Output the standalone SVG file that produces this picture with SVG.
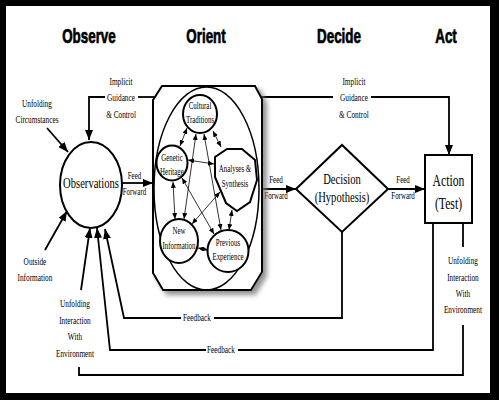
<svg xmlns="http://www.w3.org/2000/svg" width="499" height="400" viewBox="0 0 499 400">
<defs>
<style>
.t{font-family:"Liberation Serif","Times New Roman",serif;fill:#000;text-anchor:middle}
.s10{font-size:10px}
.s9{font-size:9.5px}
.h{font-family:"Liberation Sans",Arial,sans-serif;font-weight:bold;font-size:20px;text-anchor:middle;fill:#000;stroke:#000;stroke-width:0.7}
.ln{fill:none;stroke:#000;stroke-width:1.8}
.thin{fill:none;stroke:#000;stroke-width:0.8}
.shape{fill:#fff;stroke:#000;stroke-width:2}
</style>
<marker id="ah" markerUnits="userSpaceOnUse" markerWidth="10" markerHeight="8" refX="10" refY="4" orient="auto"><path d="M0,0 L10,4 L0,8 z" fill="#000"/></marker>
<marker id="sa" markerUnits="userSpaceOnUse" markerWidth="6" markerHeight="5" refX="6" refY="2.5" orient="auto-start-reverse"><path d="M0,0 L6,2.5 L0,5 z" fill="#000"/></marker>
<filter id="sh" x="-20%" y="-20%" width="140%" height="140%"><feDropShadow dx="4" dy="4" stdDeviation="2.5" flood-color="#777" flood-opacity="0.8"/></filter>
</defs>
<rect x="0" y="0" width="499" height="400" fill="#000"/>
<rect x="6" y="6" width="484" height="387" fill="#fff"/>

<g id="titles">
<text class="h" transform="scale(0.67,1)" x="132.8" y="43">Observe</text>
<text class="h" transform="scale(0.67,1)" x="307.5" y="43">Orient</text>
<text class="h" transform="scale(0.67,1)" x="506" y="43">Decide</text>
<text class="h" transform="scale(0.67,1)" x="665.7" y="43">Act</text>
</g>

<g id="connectors">
<path class="ln" d="M157,97 H138"/>
<path class="ln" d="M105,97 H89 V140" marker-end="url(#ah)"/>
<path class="ln" d="M259,97 H333"/>
<path class="ln" d="M371,97 H449 V155" marker-end="url(#ah)"/>
<path class="ln" d="M47,128 L68,152" marker-end="url(#ah)"/>
<path class="ln" d="M45,250 L67,211" marker-end="url(#ah)"/>
<path class="ln" d="M81,290 L90,228" marker-end="url(#ah)"/>
<path class="ln" d="M122,183 H153" marker-end="url(#ah)"/>
<path class="ln" d="M262,189 H296" marker-end="url(#ah)"/>
<path class="ln" d="M388,189 H425" marker-end="url(#ah)"/>
<path class="ln" d="M342,232 V318 H214"/>
<path class="ln" d="M181,318 H124 L105,229" marker-end="url(#ah)"/>
<path class="ln" d="M433,223 V350 H238"/>
<path class="ln" d="M206,350 H110 L97,228" marker-end="url(#ah)"/>
<path class="ln" d="M463,223 V247"/>
<path class="ln" d="M463,325 V375 H79 V367"/>
</g>

<g id="labels">
<text class="t s10" transform="scale(0.73,1)" x="165.8" y="85">Implicit</text>
<text class="t s10" transform="scale(0.73,1)" x="165.8" y="101">Guidance</text>
<text class="t s10" transform="scale(0.73,1)" x="165.8" y="118">&amp; Control</text>
<text class="t s10" transform="scale(0.73,1)" x="484.9" y="85">Implicit</text>
<text class="t s10" transform="scale(0.73,1)" x="484.9" y="101">Guidance</text>
<text class="t s10" transform="scale(0.73,1)" x="484.9" y="118">&amp; Control</text>
<text class="t s10" transform="scale(0.73,1)" x="50.7" y="107">Unfolding</text>
<text class="t s10" transform="scale(0.73,1)" x="50.7" y="123">Circumstances</text>
<text class="t s10" transform="scale(0.73,1)" x="47.9" y="265">Outside</text>
<text class="t s10" transform="scale(0.73,1)" x="47.9" y="281">Information</text>
<text class="t s10" transform="scale(0.73,1)" x="102.7" y="307">Unfolding</text>
<text class="t s10" transform="scale(0.73,1)" x="102.7" y="324">Interaction</text>
<text class="t s10" transform="scale(0.73,1)" x="102.7" y="340">With</text>
<text class="t s10" transform="scale(0.73,1)" x="102.7" y="357">Environment</text>
<text class="t s10" transform="scale(0.73,1)" x="634.2" y="264">Unfolding</text>
<text class="t s10" transform="scale(0.73,1)" x="634.2" y="281">Interaction</text>
<text class="t s10" transform="scale(0.73,1)" x="634.2" y="297">With</text>
<text class="t s10" transform="scale(0.73,1)" x="634.2" y="313">Environment</text>
<text class="t s10" transform="scale(0.73,1)" x="269.9" y="321">Feedback</text>
<text class="t s10" transform="scale(0.73,1)" x="302.7" y="353">Feedback</text>
<text class="t s9" transform="scale(0.73,1)" x="184.2" y="179">Feed</text>
<text class="t s9" transform="scale(0.73,1)" x="184.2" y="195">Forward</text>
<text class="t s9" transform="scale(0.73,1)" x="378.1" y="183">Feed</text>
<text class="t s9" transform="scale(0.73,1)" x="378.1" y="199">Forward</text>
<text class="t s9" transform="scale(0.73,1)" x="552.1" y="183">Feed</text>
<text class="t s9" transform="scale(0.73,1)" x="552.1" y="199">Forward</text>
</g>

<g id="observations">
<ellipse class="shape" cx="91" cy="185" rx="31" ry="43"/>
<text class="t" style="font-size:14.5px" transform="scale(0.73,1)" x="124.7" y="188">Observations</text>
</g>

<g id="orient">
<polygon class="shape" filter="url(#sh)" points="162,86 255,86 262,99 262,272 251,290 163,290 153,273 153,100"/>
<ellipse cx="206.5" cy="188.5" rx="52.5" ry="101.5" fill="none" stroke="#000" stroke-width="1.5"/>
<g id="orient-links">
<line class="thin" x1="187" y1="128" x2="180" y2="146" marker-start="url(#sa)" marker-end="url(#sa)"/>
<line class="thin" x1="213" y1="131" x2="221" y2="147" marker-start="url(#sa)" marker-end="url(#sa)"/>
<line class="thin" x1="188" y1="160" x2="214" y2="164" marker-start="url(#sa)" marker-end="url(#sa)"/>
<line class="thin" x1="173" y1="182" x2="175" y2="219" marker-start="url(#sa)" marker-end="url(#sa)"/>
<line class="thin" x1="198" y1="248" x2="208" y2="250" marker-start="url(#sa)" marker-end="url(#sa)"/>
<line class="thin" x1="232" y1="210" x2="229" y2="230" marker-start="url(#sa)" marker-end="url(#sa)"/>
<line class="thin" x1="196" y1="134" x2="184" y2="219" marker-start="url(#sa)" marker-end="url(#sa)"/>
<line class="thin" x1="204" y1="134" x2="221" y2="230" marker-start="url(#sa)" marker-end="url(#sa)"/>
<line class="thin" x1="182" y1="178" x2="214" y2="234" marker-start="url(#sa)" marker-end="url(#sa)"/>
<line class="thin" x1="220" y1="192" x2="192" y2="224" marker-start="url(#sa)" marker-end="url(#sa)"/>
</g>
<g id="cultural-traditions">
<ellipse class="shape" cx="200" cy="114" rx="17" ry="19"/>
<text class="t s9" transform="scale(0.73,1)" x="274" y="109">Cultural</text>
<text class="t s9" transform="scale(0.73,1)" x="274" y="123">Traditions</text>
</g>
<g id="genetic-heritage">
<ellipse class="shape" cx="172" cy="163" rx="15.5" ry="17.5"/>
<text class="t s9" transform="scale(0.73,1)" x="235.6" y="161">Genetic</text>
<text class="t s9" transform="scale(0.73,1)" x="235.6" y="175">Heritage</text>
</g>
<g id="analyses-synthesis">
<polygon class="shape" points="215,157 227,149 242,149 255,160 257,180 250,202 237,211 226,203 215,177"/>
<text class="t s9" transform="scale(0.73,1)" x="321.9" y="172">Analyses &amp;</text>
<text class="t s9" transform="scale(0.73,1)" x="321.9" y="187">Synthesis</text>
</g>
<g id="new-information">
<ellipse class="shape" cx="179" cy="241" rx="19" ry="22"/>
<text class="t s9" transform="scale(0.73,1)" x="245.2" y="234">New</text>
<text class="t s9" transform="scale(0.73,1)" x="245.2" y="249">Information</text>
</g>
<g id="previous-experience">
<ellipse class="shape" cx="228" cy="251" rx="20.5" ry="21"/>
<text class="t s9" transform="scale(0.73,1)" x="312.3" y="246">Previous</text>
<text class="t s9" transform="scale(0.73,1)" x="312.3" y="260">Experience</text>
</g>
</g>

<g id="decision">
<polygon class="shape" points="296,189 342,145 388,189 342,232"/>
<text class="t" style="font-size:14.5px" transform="scale(0.73,1)" x="468.5" y="184">Decision</text>
<text class="t" style="font-size:14.5px" transform="scale(0.73,1)" x="468.5" y="202">(Hypothesis)</text>
</g>

<g id="action">
<rect class="shape" x="425" y="155" width="47" height="68"/>
<text class="t" style="font-size:16px" transform="scale(0.73,1)" x="614.4" y="186">Action</text>
<text class="t" style="font-size:16px" transform="scale(0.73,1)" x="614.4" y="209">(Test)</text>
</g>
</svg>
